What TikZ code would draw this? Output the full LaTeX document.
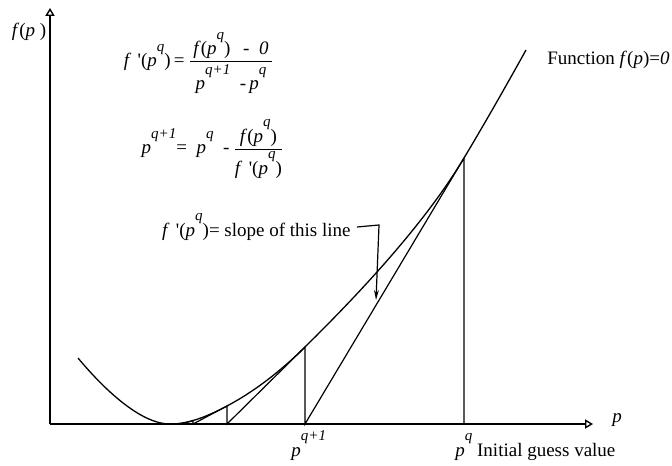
\documentclass[tikz,border=0pt]{standalone}
\usepackage{amsmath}
\usepackage{fontspec}
\setmainfont{Liberation Serif}
\usepackage{tikz}
\usetikzlibrary{arrows.meta,positioning,calc}
% raised superscript as the figure sets it
\newcommand{\psup}[1]{\textit{p}\raisebox{1.75ex}{\fontsize{7.5}{7.5}\selectfont\textit{#1}}}
\newcommand{\fpr}{\textit{f}\,\,\textquotesingle}

\begin{document}
\begin{tikzpicture}[
  x=0.5pt,y=0.5pt,
  lbl/.style={inner sep=3pt,font=\fontsize{9.5}{11}\selectfont},
  axis/.style={line width=0.7pt,-{Triangle[open,length=4pt,width=4.6pt]}},
  curve/.style={line width=0.65pt},
  thin/.style={line width=0.6pt},
  lead/.style={line width=0.6pt,-{Stealth[length=5pt,width=2.4pt]}},
]
  \useasboundingbox (0,0) rectangle (672,465);

  \coordinate (O) at (50,41);
  \coordinate (Ytip) at (50,457);
  \coordinate (Xtip) at (593,41);
  \draw[axis] (O) -- (Ytip);
  \draw[axis] (O) -- (Xtip);

  % points on the curve and their feet on the axis
  \coordinate (C0) at (78,107);
  \coordinate (C1) at (170,41);
  \coordinate (C1b) at (193,44.4);
  \coordinate (C2) at (227,59);
  \coordinate (C3) at (305,118);
  \coordinate (C4) at (464,307);
  \coordinate (C5) at (526,415);
  \coordinate (F0) at (182,41);
  \coordinate (F1) at (193,41);
  \coordinate (F2) at (227,41);
  \coordinate (F3) at (305,41);
  \coordinate (F4) at (464,41);

  \draw[curve] (C0) .. controls (103,77) and (140,41) .. (C1)
    .. controls (189,41) and (208,48.9) .. (C2)
    .. controls (253,72.8) and (279,92.3) .. (C3)
    .. controls (358,170.3) and (424,240.1) .. (C4)
    .. controls (484.7,341.6) and (505.3,377.7) .. (C5);

  \draw[thin] (F4) -- (C4) -- (F3) -- (C3) -- (F2) -- (C2) -- (F1) -- (C1b) -- (F0);

  \node[lbl] (ylab) at (29,433) {\textit{f}(\textit{p} )};
  \node[lbl] (xlab) at (617,45) {\textit{p}};
  \node[lbl,anchor=west] (func) at (541,405) {Function \textit{f}(\textit{p})=\textit{0}};

  \node[lbl] (eqa) at (199,402) {\fpr(\psup{q})\,=\,$\dfrac{\text{\,\textit{f}(\psup{q})\ \ \,-\ \ \textit{0}\,}}{\text{\psup{q+1}\ \ -\,\psup{q}}}$};
  \node[lbl] (eqb) at (213,316) {\psup{q+1}=\ \ \psup{q}\ \ -\,$\dfrac{\text{\,\textit{f}(\psup{q})\,}}{\text{\fpr(\psup{q})}}$};

  \node[lbl,anchor=east] (slope) at (357,238) {\fpr(\psup{q})= slope of this line};
  \coordinate (L1) at (379,240);
  \coordinate (L2) at (376,165);
  \draw[lead] (slope.east) -- (L1) -- (L2);

  \node[lbl,anchor=base west,inner sep=0pt] (pq1) at (291,9) {\psup{q+1}};
  \node[lbl,anchor=base west,inner sep=0pt] (pq) at (455,9) {\psup{q} Initial guess value};
\end{tikzpicture}
\end{document}
